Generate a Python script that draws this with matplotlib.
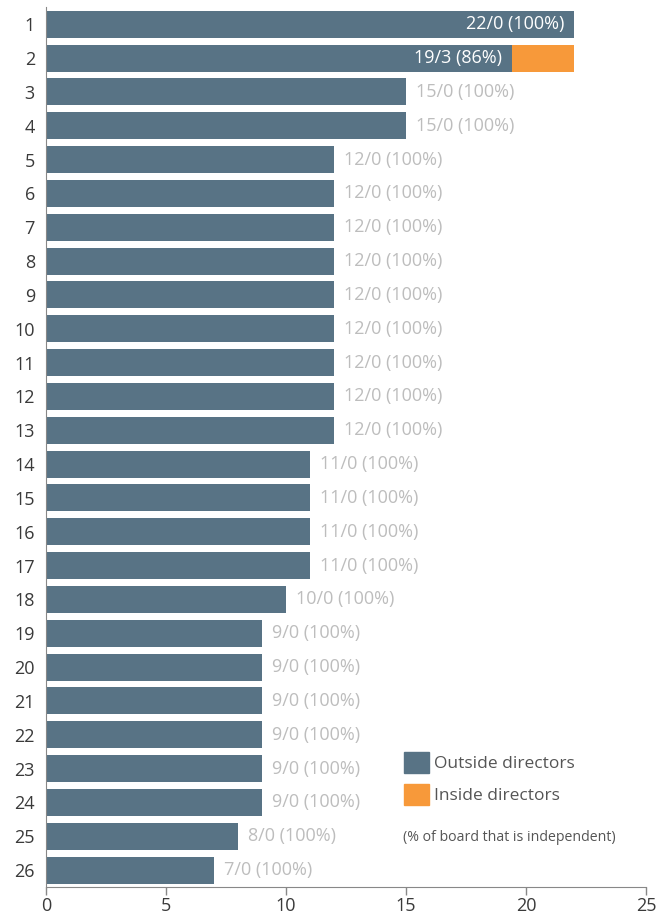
import matplotlib.pyplot as plt
from matplotlib.patches import Patch

plt.rcParams['font.family'] = ['Open Sans', 'DejaVu Sans']

rows = [str(i) for i in range(1, 27)]
outside = [22, 19.4, 15, 15, 12, 12, 12, 12, 12, 12, 12, 12, 12,
           11, 11, 11, 11, 10, 9, 9, 9, 9, 9, 9, 8, 7]
inside = [0, 2.6] + [0] * 24
labels = ["22/0 (100%)", "19/3 (86%)"] + ["15/0 (100%)"] * 2 + ["12/0 (100%)"] * 9 \
    + ["11/0 (100%)"] * 4 + ["10/0 (100%)"] + ["9/0 (100%)"] * 6 + ["8/0 (100%)", "7/0 (100%)"]

c_out = '#587385'
c_in = '#f7993a'
c_lab = '#bdbdbd'

fig = plt.figure(figsize=(6.64, 9.14), dpi=100)
ax = fig.add_axes([0.0693, 0.0295, 0.9036, 0.9625])

y = list(range(len(rows)))
ax.barh(y, outside, height=0.8, color=c_out)
ax.barh(y, inside, left=outside, height=0.8, color=c_in)

for i in y:
    if i < 2:
        ax.text(outside[i] - 0.4, i, labels[i], ha='right', va='center',
                color='white', fontsize=13)
    else:
        ax.text(outside[i] + inside[i] + 0.42, i, labels[i], ha='left', va='center',
                color=c_lab, fontsize=13)

ax.set_xlim(0, 25)
ax.set_ylim(len(rows) - 0.5, -0.5)
ax.set_yticks(y)
ax.set_yticklabels(rows)
ax.set_xticks([0, 5, 10, 15, 20, 25])
ax.tick_params(axis='y', length=0, labelsize=13, labelcolor='#3a3a3a', pad=8)
ax.tick_params(axis='x', length=6, width=1, color='#888888', labelsize=13,
               labelcolor='#3a3a3a', direction='out', pad=1.5)
for s in ['top', 'right']:
    ax.spines[s].set_visible(False)
ax.spines['left'].set_color('#888888')
ax.spines['bottom'].set_color('#888888')

handles = [Patch(color=c_out, label='Outside directors'),
           Patch(color=c_in, label='Inside directors')]
leg = fig.legend(handles=handles, loc='upper left', bbox_to_anchor=(0.608, 0.177),
                 frameon=False, fontsize=12.5, handlelength=1.45, handleheight=1.45,
                 handletextpad=0.3, labelspacing=0.65, borderaxespad=0, borderpad=0)
for t in leg.get_texts():
    t.set_color('#555555')

fig.text(0.607, 0.084, '(% of board that is independent)', fontsize=10.2,
         color='#555555', va='center', ha='left')

fig.savefig('out.png', dpi=100)
